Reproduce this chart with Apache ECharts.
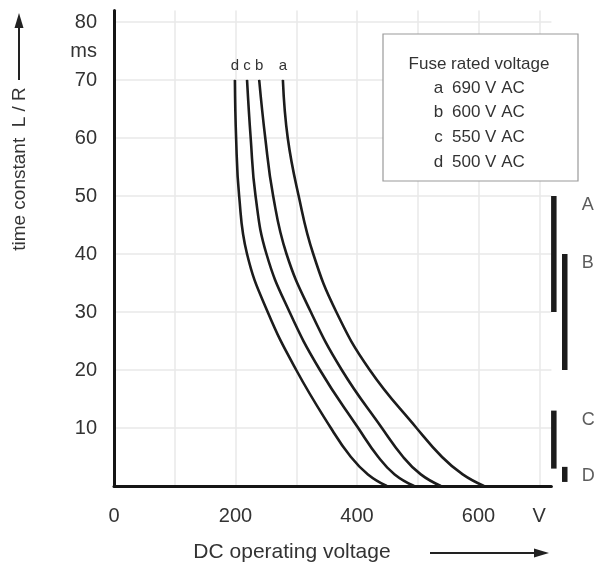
<!DOCTYPE html>
<html>
<head>
<meta charset="utf-8">
<script src="https://cdn.jsdelivr.net/npm/echarts@6/dist/echarts.min.js"></script>
<style>html,body{margin:0;padding:0;background:#fff}#c{width:595px;height:564px}</style>
</head>
<body>
<div id="c"></div>
<script>
// ---- data ----
const timeLevels = [70, 60, 50, 40, 30, 20, 10, 5, 2, 0];          // ms
const curveNames = ['a', 'b', 'c', 'd'];
const curveA = [278, 286, 304, 328, 366, 421, 498, 540, 574, 609]; // V
const curveB = [239, 249, 262, 284, 324, 375, 441, 476, 505, 538];
const curveC = [219, 225, 233, 251, 289, 339, 402, 435, 462, 494];
const curveD = [199, 201, 206, 219, 253, 300, 357, 390, 418, 449];
const ratedVoltages = ['690 V AC', '600 V AC', '550 V AC', '500 V AC'];
const legendTitle = 'Fuse rated voltage';

const rangeNames = ['A', 'B', 'C', 'D'];
const rangeColumnV = [724, 742, 724, 742];   // V position of each range bar
const rangeTop = [50, 40, 13, 3.3];          // ms
const rangeBottom = [30, 20, 3, 0.7];        // ms

const xTicks = [0, 200, 400, 600];
const xUnit = 'V';
const yTicks = [10, 20, 30, 40, 50, 60, 70, 80];
const yUnit = 'ms';

const FONT = 'Liberation Sans, Arial, sans-serif';
const TXT = '#333';

const chart = echarts.init(document.getElementById('c'), null, {renderer: 'canvas'});

const curves = [curveA, curveB, curveC, curveD];
const series = curves.map((vals, i) => ({
  type: 'line',
  name: curveNames[i],
  data: vals.map((v, k) => [v, timeLevels[k]]),
  smooth: 0.45,
  symbol: 'none',
  lineStyle: {color: '#1c1c1c', width: 2.6},
  z: 5,
  markPoint: {
    symbol: 'circle', symbolSize: 1,
    itemStyle: {color: '#1c1c1c'},
    label: {show: true, position: 'top', distance: 6, formatter: curveNames[i],
            color: TXT, fontSize: 15, fontFamily: FONT},
    data: [{coord: [vals[0], timeLevels[0]]}]
  }
}));

series.push({
  type: 'custom', name: 'ranges', clip: false, z: 5,
  data: rangeNames.map((n, i) => [rangeColumnV[i], rangeTop[i], rangeBottom[i]]),
  encode: {x: 0, y: [1, 2]},
  renderItem: (params, api) => {
    const p1 = api.coord([api.value(0), api.value(1)]);
    const p2 = api.coord([api.value(0), api.value(2)]);
    return {type: 'rect', shape: {x: p1[0] - 2.75, y: p1[1], width: 5.5, height: p2[1] - p1[1]},
            style: {fill: '#1c1c1c'}};
  }
});
series.push({
  type: 'scatter', name: 'rangeLabels', clip: false, symbolSize: 1,
  itemStyle: {color: 'rgba(0,0,0,0)'},
  data: rangeNames.map((n, i) => ({name: n, value: [770, rangeTop[i]]})),
  label: {show: true, formatter: '{b}', position: 'inside', align: 'left',
          verticalAlign: 'middle', offset: [0, 9], color: TXT, fontSize: 18, fontFamily: FONT}
});

// legend box built from the arrays
const legendGraphics = [
  {type: 'rect', shape: {x: 383, y: 34, width: 195, height: 147},
   style: {fill: '#fff', stroke: '#9a9a9a', lineWidth: 1.2}, z: 10},
  {type: 'text', x: 479, y: 64, z: 11,
   style: {text: legendTitle, font: '17px ' + FONT, fill: TXT, align: 'center', verticalAlign: 'middle'}}
];
curveNames.forEach((n, i) => {
  legendGraphics.push({type: 'text', x: 438.5, y: 88 + i * 24.7, z: 11,
    style: {text: n, font: '17px ' + FONT, fill: TXT, align: 'center', verticalAlign: 'middle'}});
  legendGraphics.push({type: 'text', x: 452, y: 88 + i * 24.7, z: 11,
    style: {text: ratedVoltages[i], font: '17px ' + FONT, fill: TXT, align: 'left', verticalAlign: 'middle'}});
});

const option = {
  animation: false,
  backgroundColor: '#fff',
  grid: {left: 114, right: 43.6, top: 10.4, bottom: 78, containLabel: false},
  xAxis: {
    type: 'value', min: 0, max: 720, interval: 100,
    axisLine: {show: true, lineStyle: {color: '#151515', width: 3}},
    axisTick: {show: false},
    splitLine: {show: true, showMinLine: false, showMaxLine: false, lineStyle: {color: '#e8e8e8', width: 1.5}},
    axisLabel: {
      margin: 20, fontSize: 20, color: TXT, fontFamily: FONT, showMaxLabel: false,
      formatter: v => xTicks.includes(v) ? String(v) : (v === 700 ? xUnit : '')
    }
  },
  yAxis: [{
    type: 'value', min: 0, max: 82, interval: 10,
    axisLine: {show: true, lineStyle: {color: '#151515', width: 3}},
    axisTick: {show: false},
    splitLine: {show: true, showMinLine: false, showMaxLine: false, lineStyle: {color: '#e8e8e8', width: 1.5}},
    axisLabel: {
      margin: 17, fontSize: 20, color: TXT, fontFamily: FONT, showMaxLabel: false,
      formatter: v => yTicks.includes(v) ? String(v) : ''
    }
  }, {
    type: 'value', min: 0, max: 82, interval: 5, position: 'left',
    axisLine: {show: false}, axisTick: {show: false}, splitLine: {show: false},
    axisLabel: {
      margin: 17, fontSize: 20, color: TXT, fontFamily: FONT, showMaxLabel: false,
      formatter: v => v === 75 ? yUnit : ''
    }
  }],
  graphic: [
    {type: 'text', x: 20, y: 169, rotation: Math.PI / 2,
     style: {text: 'time constant  L / R', font: '19px ' + FONT, fill: TXT, align: 'center', verticalAlign: 'middle'}},
    {type: 'line', shape: {x1: 19, y1: 80, x2: 19, y2: 26}, style: {stroke: '#222', lineWidth: 2}},
    {type: 'polygon', shape: {points: [[19, 13], [14.5, 28], [23.5, 28]]}, style: {fill: '#222'}},
    {type: 'text', x: 292, y: 552,
     style: {text: 'DC operating voltage', font: '21px ' + FONT, fill: TXT, align: 'center', verticalAlign: 'middle'}},
    {type: 'line', shape: {x1: 430, y1: 553, x2: 536, y2: 553}, style: {stroke: '#222', lineWidth: 2}},
    {type: 'polygon', shape: {points: [[549, 553], [534, 548.5], [534, 557.5]]}, style: {fill: '#222'}},
    ...legendGraphics
  ],
  series: series
};
chart.setOption(option);
</script>
</body>
</html>
